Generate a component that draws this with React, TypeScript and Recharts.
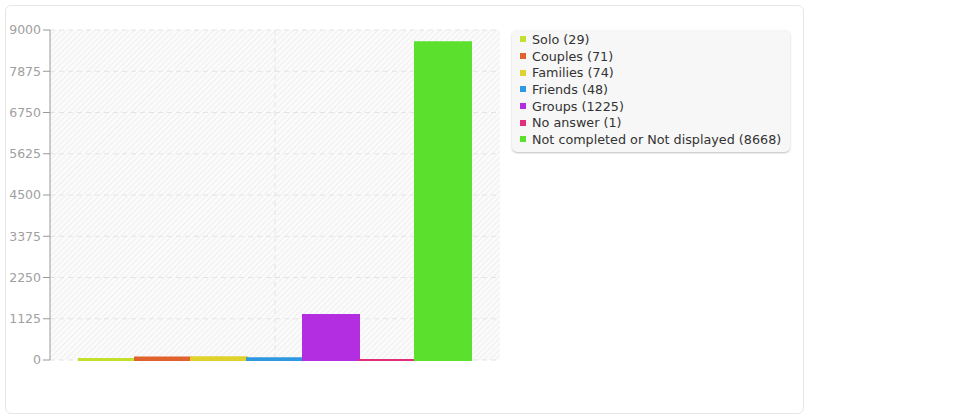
import React from 'react';
import { Bar, BarChart, CartesianGrid, XAxis, YAxis } from 'recharts';

const categories = ['Solo', 'Couples', 'Families', 'Friends', 'Groups', 'No answer', 'Not completed or Not displayed'];
const counts = [29, 71, 74, 48, 1225, 1, 8668];
const colors = ['#c3e02e', '#e0622e', '#e0d22e', '#2e98e0', '#b22ee0', '#e02e7a', '#5ce02e'];
const yTicks = [0, 1125, 2250, 3375, 4500, 5625, 6750, 7875, 9000];

const FONT = '"DejaVu Sans", sans-serif';

// one row, one key per series
const row: Record<string, number | string> = { name: 'answers' };
categories.forEach((c, i) => {
  row[`s${i}`] = counts[i];
});
const chartData = [row];

const Legend = () => (
  <div
    style={{
      position: 'absolute',
      left: 512,
      top: 30,
      width: 278,
      height: 122,
      background: '#f7f7f7',
      borderRadius: 5,
      boxShadow: '0 1px 2px rgba(0,0,0,0.25)',
      fontFamily: FONT,
      fontSize: 12.75,
      color: '#333',
      boxSizing: 'border-box',
      paddingTop: 1,
      whiteSpace: 'nowrap',
    }}
  >
    {categories.map((c, i) => (
      <div key={c} style={{ display: 'flex', alignItems: 'center', height: 16.7 }}>
        <span
          style={{
            display: 'inline-block',
            width: 6,
            height: 6,
            marginLeft: 8,
            marginRight: 6,
            background: colors[i],
          }}
        />
        <span>{`${c} (${counts[i]})`}</span>
      </div>
    ))}
  </div>
);

export default function App() {
  return (
    <div style={{ position: 'absolute', left: 0, top: 0, width: 969, height: 420, background: '#fff' }}>
      <div
        style={{
          position: 'absolute',
          left: 5,
          top: 5,
          width: 799,
          height: 409,
          border: '1px solid #e6e6e6',
          borderRadius: 6,
          boxSizing: 'border-box',
        }}
      />
      <div style={{ position: 'absolute', left: 0, top: 0 }}>
        <BarChart
          width={969}
          height={420}
          data={chartData}
          margin={{ top: 30, right: 469, bottom: 60, left: 0 }}
          barSize={56}
          barGap={0}
        >
          <defs>
            <pattern id="hatch" width="4" height="4" patternUnits="userSpaceOnUse" patternTransform="rotate(45)">
              <rect width="4" height="4" fill="#fbfbfb" />
              <line x1="0" y1="0" x2="0" y2="4" stroke="#efefef" strokeWidth="2" />
            </pattern>
          </defs>
          <CartesianGrid
            fill="url(#hatch)"
            stroke="#e4e4e4"
            strokeDasharray="5 4"
            verticalCoordinatesGenerator={({ offset }: any) => [offset.left + offset.width / 2]}
          />
          <XAxis
            xAxisId="top"
            orientation="top"
            dataKey="name"
            height={0}
            tick={false}
            tickLine={false}
            axisLine={{ stroke: '#dddddd' }}
          />
          <XAxis dataKey="name" height={0} tick={false} tickLine={false} axisLine={{ stroke: '#999' }} />
          <YAxis
            yAxisId="right"
            orientation="right"
            width={0}
            tick={false}
            tickLine={false}
            axisLine={{ stroke: '#dddddd' }}
          />
          <YAxis
            width={50}
            domain={[0, 9000]}
            ticks={yTicks}
            interval={0}
            axisLine={{ stroke: '#999' }}
            tickLine={{ stroke: '#999' }}
            tickSize={7}
            tickMargin={2}
            tick={{ fill: '#a0a0a0', fontSize: 12.5, fontFamily: FONT }}
          />
          {categories.map((c, i) => (
            <Bar
              key={c}
              dataKey={`s${i}`}
              name={c}
              fill={colors[i]}
              stroke={colors[i]}
              strokeWidth={2}
              isAnimationActive={false}
            />
          ))}
        </BarChart>
      </div>
      <Legend />
    </div>
  );
}
